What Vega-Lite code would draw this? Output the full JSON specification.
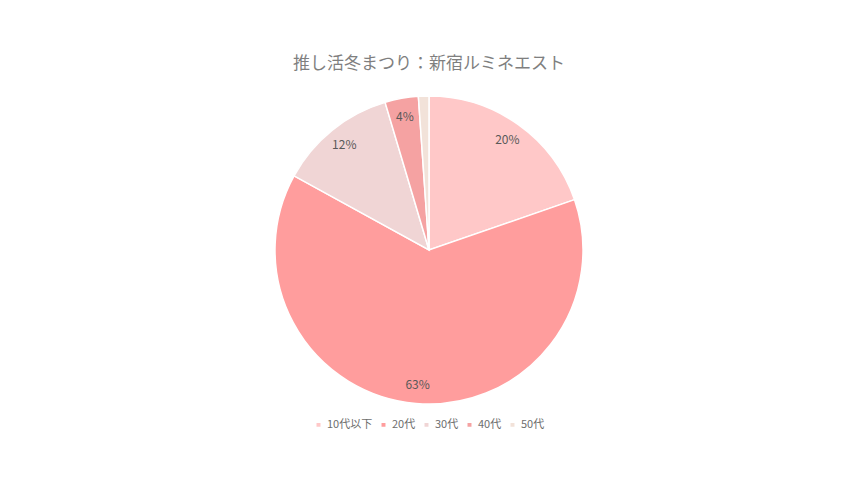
{
  "$schema": "https://vega.github.io/schema/vega-lite/v6.json",
  "description": "推し活冬まつり：新宿ルミネエスト 年代別構成比",
  "width": 308,
  "height": 308,
  "padding": {"left": 272, "top": 55, "right": 0, "bottom": 0},
  "background": "white",
  "title": {
    "text": "推し活冬まつり：新宿ルミネエスト",
    "font": "Noto Sans CJK JP",
    "fontSize": 17,
    "fontWeight": "normal",
    "color": "#7f7f7f",
    "offset": 20,
    "anchor": "middle"
  },
  "data": {
    "values": [
      {"age": "10代以下", "pct": 0.197},
      {"age": "20代", "pct": 0.633},
      {"age": "30代", "pct": 0.124},
      {"age": "40代", "pct": 0.035},
      {"age": "50代", "pct": 0.011}
    ]
  },
  "encoding": {
    "theta": {"field": "pct", "type": "quantitative", "stack": true},
    "order": {"field": "age", "type": "ordinal"}
  },
  "layer": [
    {
      "mark": {"type": "arc", "outerRadius": 154, "stroke": "white", "strokeWidth": 1.5},
      "encoding": {
        "color": {
          "field": "age",
          "type": "nominal",
          "scale": {
            "domain": ["10代以下", "20代", "30代", "40代", "50代"],
            "range": ["#ffc8c8", "#ff9d9d", "#f0d5d5", "#f5a2a2", "#f2e2d9"]
          },
          "legend": {
            "title": null,
            "orient": "bottom",
            "direction": "horizontal",
            "symbolType": "square",
            "symbolSize": 30,
            "labelFont": "Noto Sans CJK JP",
            "labelFontSize": 11,
            "labelColor": "#6e6e6e",
            "labelOffset": 3,
            "columnPadding": 4,
            "offset": 15
          }
        }
      }
    },
    {
      "mark": {"type": "text", "radius": 135, "font": "Noto Sans CJK JP", "fontSize": 12, "color": "#595959"},
      "encoding": {
        "detail": {"field": "age", "type": "nominal"},
        "text": {
          "condition": {"test": "datum.pct < 0.02", "value": ""},
          "field": "pct",
          "type": "quantitative",
          "format": ".0%"
        }
      }
    }
  ],
  "config": {
    "view": {"stroke": null},
    "legend": {"layout": {"bottom": {"anchor": "middle"}}}
  }
}
